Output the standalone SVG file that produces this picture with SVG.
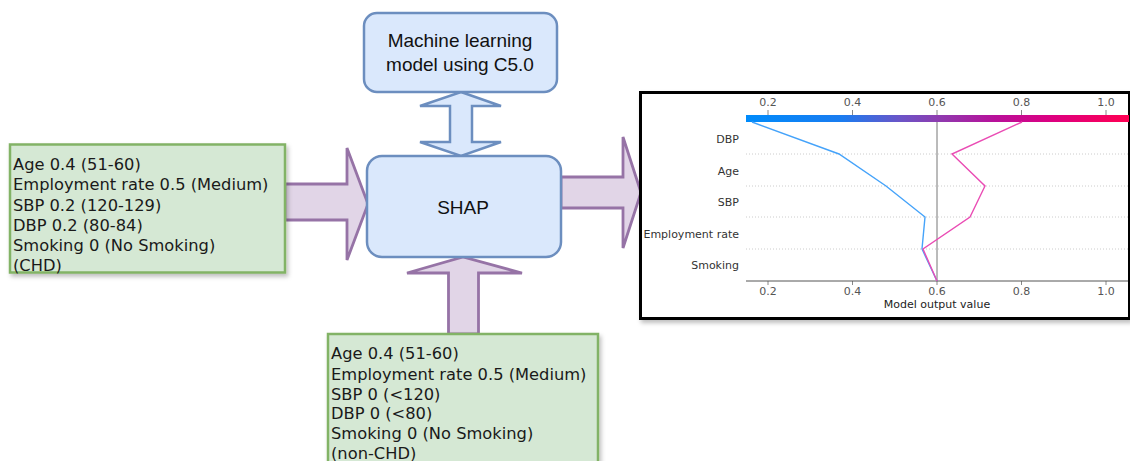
<svg xmlns="http://www.w3.org/2000/svg" width="1130" height="461" viewBox="0 0 1130 461">
<defs>
<style>
.green{fill:#d5e8d4;stroke:#82b366;stroke-width:2.5}
.blue{fill:#dae8fc;stroke:#6c8ebf;stroke-width:2.5}
.purp{fill:#e1d5e7;stroke:#9673a6;stroke-width:2.8;stroke-linejoin:miter}
.gt{font-family:"DejaVu Sans",Verdana,sans-serif;font-size:16.3px;fill:#1a1a1a}
.bt{font-family:"Liberation Sans",Arial,sans-serif;font-size:19px;fill:#111;text-anchor:middle}
.tick{font-family:"DejaVu Sans",sans-serif;font-size:11px;fill:#555;text-anchor:middle}
.row{font-family:"DejaVu Sans",sans-serif;font-size:11px;fill:#333;text-anchor:end}
.grid{stroke:#ccc;stroke-width:1;stroke-dasharray:1,2}
</style>
<filter id="sh" x="-5%" y="-5%" width="115%" height="120%">
<feDropShadow dx="2" dy="3" stdDeviation="2" flood-color="#000" flood-opacity="0.25"/>
</filter>
<linearGradient id="cbar" x1="0" y1="0" x2="1" y2="0">
<stop offset="0" stop-color="#008bfb"/>
<stop offset="0.25" stop-color="#1a7cf0"/>
<stop offset="0.4" stop-color="#6a55c8"/>
<stop offset="0.5" stop-color="#8d3cb0"/>
<stop offset="0.65" stop-color="#b8109a"/>
<stop offset="0.8" stop-color="#dd0080"/>
<stop offset="1" stop-color="#ff0052"/>
</linearGradient>
</defs>

<g id="connectors">
<path class="purp" d="M285,184 L347,184 L347,148 L368,204 L347,260 L347,220 L285,220 Z"/>
<path class="purp" d="M561,177 L623,177 L623,137 L641,192.5 L623,248 L623,208 L561,208 Z"/>
<path class="purp" d="M448.5,334 L448.5,273 L407,273 L463,257 L522,273 L478.5,273 L478.5,334 Z"/>
<path class="blue" d="M461,92 L501,106 L472,106 L472,142 L501,142 L461,156 L420,142 L450,142 L450,106 L420,106 Z"/>
</g>

<g id="input-chd">
<rect class="green" x="10" y="144.5" width="275" height="128" filter="url(#sh)"/>
<text class="gt" x="13" y="170">Age 0.4 (51-60)</text>
<text class="gt" x="13" y="190.3">Employment rate 0.5 (Medium)</text>
<text class="gt" x="13" y="210.6">SBP 0.2 (120-129)</text>
<text class="gt" x="13" y="230.9">DBP 0.2 (80-84)</text>
<text class="gt" x="13" y="251.2">Smoking 0 (No Smoking)</text>
<text class="gt" x="13" y="270.5">(CHD)</text>
</g>

<g id="ml-model">
<rect class="blue" x="364" y="13" width="193" height="79" rx="13"/>
<text class="bt" x="460" y="46.5">Machine learning</text>
<text class="bt" x="460" y="70.5">model using C5.0</text>
</g>

<g id="shap">
<rect class="blue" x="367" y="156" width="194" height="101" rx="15"/>
<text class="bt" x="463" y="213.5">SHAP</text>
</g>

<g id="input-nonchd">
<rect class="green" x="328" y="334" width="270" height="140" filter="url(#sh)"/>
<text class="gt" x="331" y="359">Age 0.4 (51-60)</text>
<text class="gt" x="331" y="379.5">Employment rate 0.5 (Medium)</text>
<text class="gt" x="331" y="399.5">SBP 0 (&lt;120)</text>
<text class="gt" x="331" y="419">DBP 0 (&lt;80)</text>
<text class="gt" x="331" y="439">Smoking 0 (No Smoking)</text>
<text class="gt" x="331" y="458.5">(non-CHD)</text>
</g>

<g id="decision-plot">
<rect x="640.5" y="92.5" width="489" height="226" fill="#fff" stroke="#000" stroke-width="3" filter="url(#sh)"/>
<rect x="746" y="115" width="383" height="7" fill="url(#cbar)"/>
<g stroke="#888" stroke-width="1">
<line x1="768" y1="110" x2="768" y2="115"/>
<line x1="852.5" y1="110" x2="852.5" y2="115"/>
<line x1="937" y1="110" x2="937" y2="115"/>
<line x1="1021.5" y1="110" x2="1021.5" y2="115"/>
<line x1="1106" y1="110" x2="1106" y2="115"/>
<line x1="768" y1="281" x2="768" y2="285"/>
<line x1="852.5" y1="281" x2="852.5" y2="285"/>
<line x1="937" y1="281" x2="937" y2="285"/>
<line x1="1021.5" y1="281" x2="1021.5" y2="285"/>
<line x1="1106" y1="281" x2="1106" y2="285"/>
</g>
<text class="tick" x="768" y="106">0.2</text>
<text class="tick" x="852.5" y="106">0.4</text>
<text class="tick" x="937" y="106">0.6</text>
<text class="tick" x="1021.5" y="106">0.8</text>
<text class="tick" x="1106" y="106">1.0</text>
<line class="grid" x1="746" y1="154" x2="1128" y2="154"/>
<line class="grid" x1="746" y1="186" x2="1128" y2="186"/>
<line class="grid" x1="746" y1="217" x2="1128" y2="217"/>
<line class="grid" x1="746" y1="249" x2="1128" y2="249"/>
<line x1="937" y1="122" x2="937" y2="281" stroke="#777" stroke-width="1"/>
<line x1="746" y1="281" x2="1128" y2="281" stroke="#555" stroke-width="1"/>
<text class="row" x="739" y="143">DBP</text>
<text class="row" x="739" y="174.5">Age</text>
<text class="row" x="739" y="206">SBP</text>
<text class="row" x="739" y="237.5">Employment rate</text>
<text class="row" x="739" y="269">Smoking</text>
<polyline points="752,122 839,154 886,186 925,217 922,249 937,281" fill="none" stroke="#45a3fa" stroke-width="1.4"/>
<polyline points="1022,122 952,154 985,186 970,217 923,249 937,281" fill="none" stroke="#ea4cb4" stroke-width="1.4"/>
<text class="tick" x="768" y="295">0.2</text>
<text class="tick" x="852.5" y="295">0.4</text>
<text class="tick" x="937" y="295">0.6</text>
<text class="tick" x="1021.5" y="295">0.8</text>
<text class="tick" x="1106" y="295">1.0</text>
<text class="tick" x="937" y="308" style="fill:#222">Model output value</text>
</g>
</svg>
